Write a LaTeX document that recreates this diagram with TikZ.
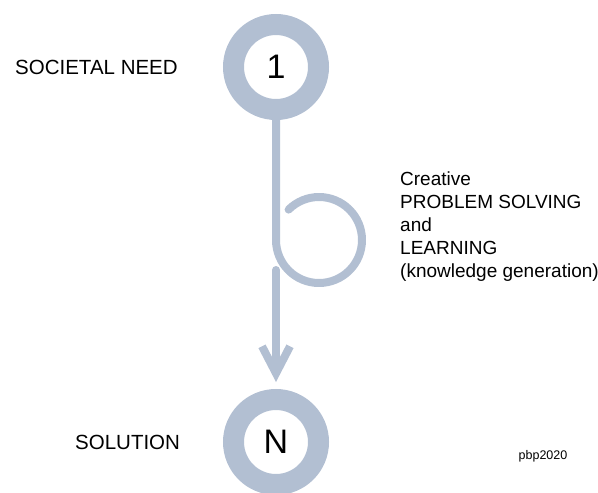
\documentclass[tikz,border=0pt]{standalone}
\usepackage{fontspec}
\setmainfont{Liberation Sans}
\usetikzlibrary{arrows.meta}

\definecolor{ringblue}{RGB}{178,191,210}

\tikzset{
  stage/.style={circle,draw=ringblue,line width=21pt,minimum size=85pt,inner sep=0pt,font=\fontsize{34}{40}\selectfont},
  flow/.style={draw=ringblue,line width=8pt,line cap=round,line join=round},
  sidelabel/.style={anchor=west,inner sep=0pt,font=\fontsize{20.5}{24}\selectfont}
}

\begin{document}
\begin{tikzpicture}[x=1pt,y=-1pt]
\useasboundingbox (0,0) rectangle (598,493);

\node[stage] (need) at (276,67) {1};
\node[sidelabel] (needtxt) at (15,67) {SOCIETAL NEED};

\node[stage] (sol) at (276,442) {N};
\node[sidelabel] (soltxt) at (75,442) {SOLUTION};

% the loop of trial and learning
\coordinate (turn) at (276,240);
\draw[flow] (need) -- (turn) arc[start angle=180,end angle=495,radius=43pt];

\coordinate (arrtop) at (276,270);
\draw[flow,-{Straight Barb[length=27pt,width=28pt]},shorten >=7pt] (arrtop) -- (sol);

\node[anchor=north west,align=left,inner sep=0pt,font=\fontsize{19}{23}\selectfont] (learn) at (400,172)
  {Creative\\PROBLEM SOLVING\\and\\LEARNING\\(knowledge generation)};

\node[font=\fontsize{12.5}{15}\selectfont] (mark) at (543,456) {pbp2020};
\end{tikzpicture}
\end{document}
